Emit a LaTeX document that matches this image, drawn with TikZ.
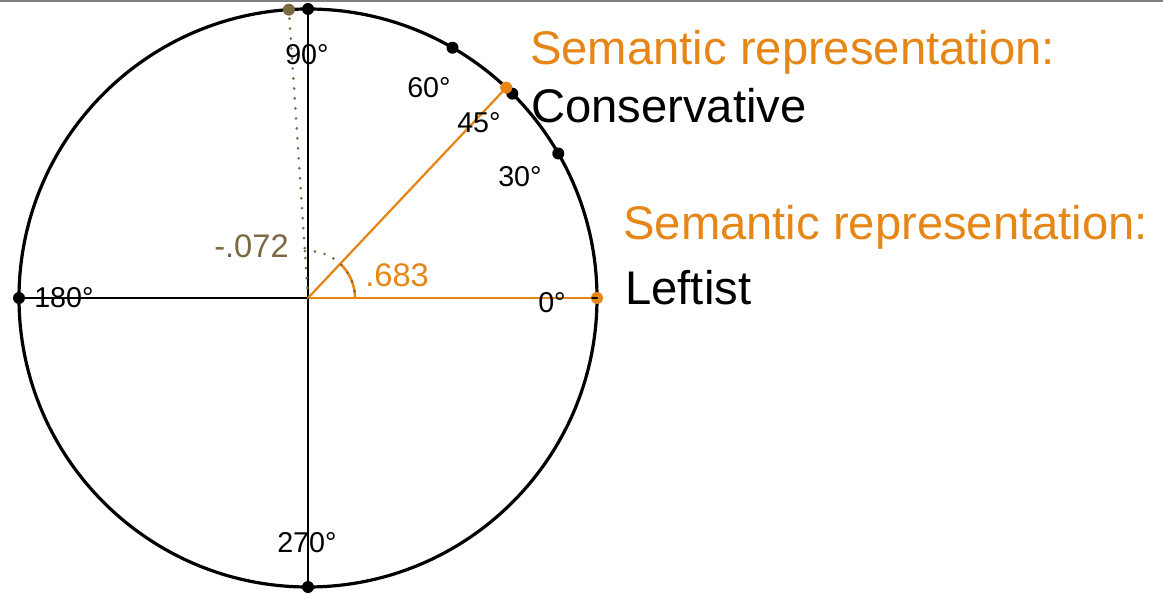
\documentclass[tikz,border=0pt]{standalone}
\usepackage{fontspec}
\setmainfont{Liberation Sans}
\usetikzlibrary{calc}
\definecolor{semorange}{RGB}{230,134,22}
\definecolor{simbrown}{RGB}{125,104,68}
\tikzset{
	dot/.style={circle,fill=black,inner sep=0pt,minimum size=9pt},
	degtext/.style={anchor=base west,inner sep=0pt,font=\fontsize{21.5}{24}\selectfont},
	simtext/.style={anchor=base west,inner sep=0pt,font=\fontsize{24.5}{28}\selectfont},
	bigtext/.style={anchor=base west,inner sep=0pt,font=\fontsize{35.4}{40}\selectfont}
}
\begin{document}
\begin{tikzpicture}[x=0.75pt,y=0.75pt,line join=round,line cap=round]
	\def\R{289} \def\r{47} % radii
	\def\aCons{46.7} \def\aSim{93.8} % angles
	\useasboundingbox (0,0) rectangle (1163,593);
	\draw[gray,line width=2.2pt] (0,592)--(1163,592);
	\coordinate (O) at (308,295);
	\draw[line width=2.4pt] (O) circle[radius=\R];
	% points on the circle
	\node[dot] (d30) at ($(O)+(30:\R)$) {};
	\node[dot] (d45) at ($(O)+(45:\R)$) {};
	\node[dot] (d60) at ($(O)+(60:\R)$) {};
	\node[dot] (d90) at ($(O)+(90:\R)$) {};
	\node[dot] (d180) at ($(O)+(180:\R)$) {};
	\node[dot] (d270) at ($(O)+(270:\R)$) {};
	\node[dot,fill=semorange] (d0) at ($(O)+(0:\R)$) {};
	\node[dot,fill=semorange] (cons) at ($(O)+(\aCons:\R)$) {};
	\node[dot,fill=simbrown] (sim) at ($(O)+(\aSim:\R)$) {};
	% axes
	\draw[line width=1.7pt] (d180.center)--(d0.center);
	\draw[line width=1.7pt] (d90.center)--(d270.center);
	\draw[semorange,line width=1.7pt] (O)--(d0);
	\draw[semorange,line width=1.7pt] (O)--(cons);
	\draw[simbrown,line width=2.2pt,dash pattern=on 0pt off 7.5pt] (O)--(sim);
	% angles
	\draw[semorange,line width=1.9pt] ($(O)+(0:\r)$) arc[start angle=0,end angle=\aCons,radius=\r];
	\draw[simbrown,line width=2.2pt,dash pattern=on 0pt off 7.5pt] ($(O)+(\aSim:\r)$) arc[start angle=\aSim,end angle=0,radius=\r];
	\node[simtext,text=simbrown] (vsim) at (214,335) {-.072};
	\node[simtext,text=semorange] (vcons) at (365,306) {.683};
	% degree labels
	\node[degtext] (l90) at (285,528) {90°};
	\node[degtext] (l60) at (407,495) {60°};
	\node[degtext] (l45) at (457,460) {45°};
	\node[degtext] (l30) at (498,406) {30°};
	\node[degtext] (l0) at (538,280) {0°};
	\node[degtext] (l180) at (34,285) {180°};
	\node[degtext] (l270) at (277,41) {270°};
	% texts
	\node[bigtext,text=semorange] (sem1) at (530,528) {Semantic representation:};
	\node[bigtext] (tcons) at (531,470) {Conservative};
	\node[bigtext,text=semorange] (sem2) at (623,353) {Semantic representation:};
	\node[bigtext] (tleft) at (625,288) {Leftist};
\end{tikzpicture}
\end{document}
